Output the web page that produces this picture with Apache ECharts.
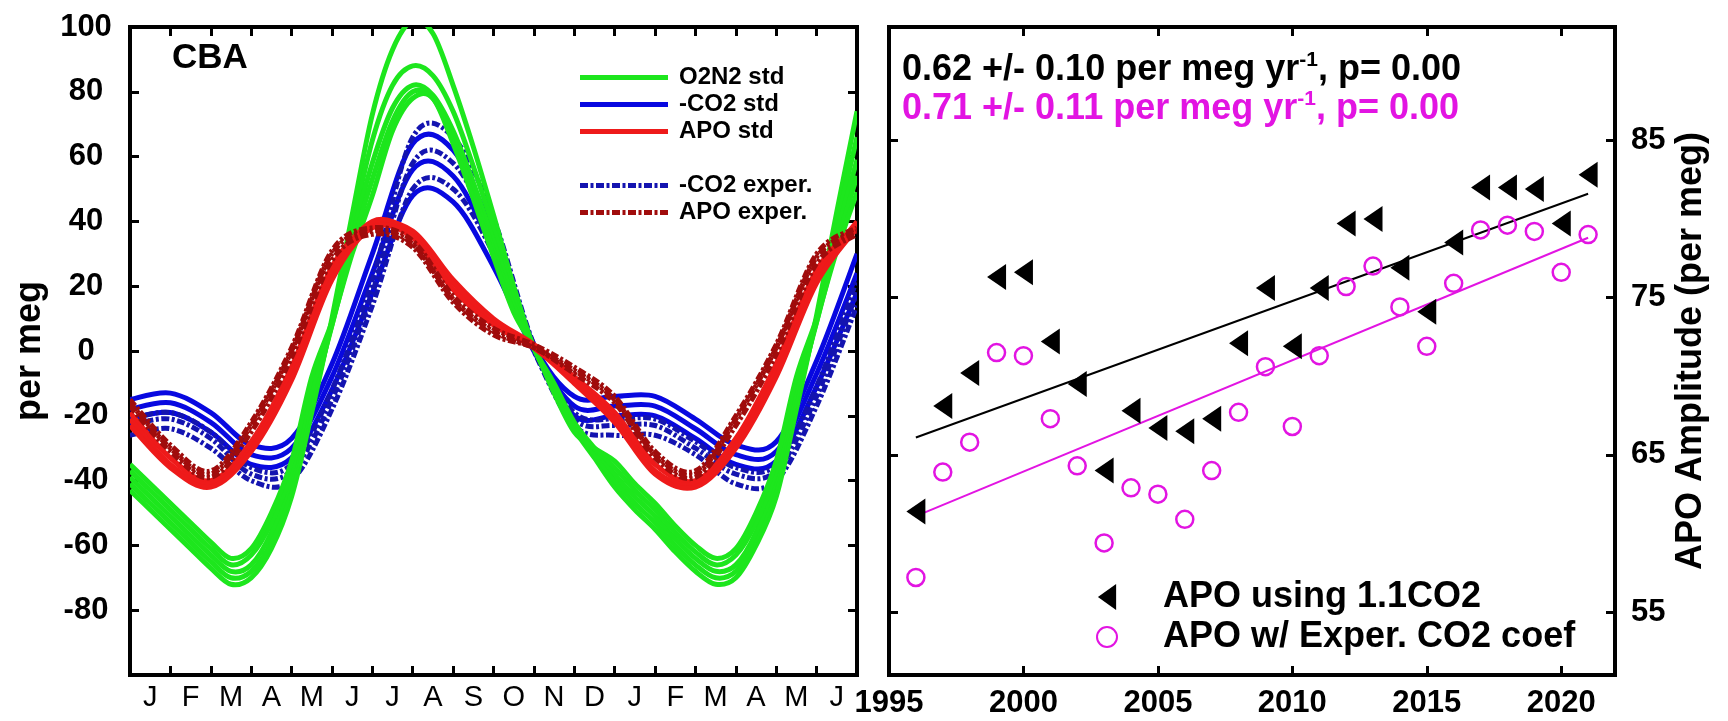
<!DOCTYPE html>
<html>
<head>
<meta charset="utf-8">
<title>CBA seasonal cycles and APO amplitude</title>
<script src="https://cdn.jsdelivr.net/npm/echarts@6/dist/echarts.min.js"></script>
<style>
  html, body { margin: 0; padding: 0; background: #ffffff; }
  #chart { width: 1728px; height: 721px; }
</style>
</head>
<body>
<div id="chart"></div>
<script>
// ---------- Left panel: seasonal cycles over 18 months (Jan .. Jun of next year) ----------
const monthLabels = ['J','F','M','A','M','J','J','A','S','O','N','D','J','F','M','A','M','J'];
const monthTicks = [1,2,3,4,5,6,7,8,9,10,11,12,13,14,15,16,17];
const monthLabelPos = [0.5,1.5,2.5,3.5,4.5,5.5,6.5,7.5,8.5,9.5,10.5,11.5,12.5,13.5,14.5,15.5,16.5,17.5];
const halfMonths = [0,0.5,1,1.5,2,2.5,3,3.5,4,4.5,5,5.5,6,6.5,7,7.5,8,8.5,9,9.5,10,10.5,11,11.5,12,12.5,13,13.5,14,14.5,15,15.5,16,16.5,17,17.5,18];
const months = [0,1,2,3,4,5,6,7,8,9,10,11,12,13,14,15,16,17,18];
const perMegTicks = [-80,-60,-40,-20,0,20,40,60,80];
const perMegLabels = [-80,-60,-40,-20,0,20,40,60,80,100];

// O2N2 std (half-month resolution)
const o2n2Std1 = [-43,-49,-55,-61,-67,-72,-70,-61,-45,-19,10,42,73,93,102,98,82,63,42,20,1,-11,-24,-33,-42,-49,-55,-62,-68,-72,-70,-60,-45,-18,11,43,74];
const o2n2Std2 = [-41,-47,-53,-59,-65,-70,-68,-59,-42,-17,9,38,65,82,88,85,74,57,38,18,1,-11,-23,-32,-40,-47,-53,-60,-66,-70,-68,-58,-42,-16,10,39,66];
const o2n2Std3 = [-39,-45,-51,-57,-63,-68,-66,-56,-39,-15,8,35,58,75,82,79,68,52,34,16,1,-10,-22,-30,-38,-45,-51,-58,-64,-68,-66,-56,-39,-14,9,36,59];
const o2n2Std4 = [-37,-43,-49,-55,-61,-66,-63,-53,-37,-12,8,32,53,71,80,78,66,49,31,14,1,-12,-24,-30,-36,-43,-49,-56,-62,-66,-63,-53,-37,-11,9,33,54];
const o2n2Std5 = [-35,-41,-47,-53,-59,-64,-61,-50,-34,-8,9,30,48,68,78,78,64,47,29,12,1,-13,-25,-30,-34,-41,-47,-54,-60,-64,-61,-50,-34,-8,10,31,49];

// -CO2 std (monthly)
const co2Std1 = [-15,-13,-19,-29,-27,-4,30,64,62,36,2,-14,-14,-14,-21,-29,-28,-3,30];
const co2Std2 = [-18,-16,-22,-32,-30,-8,24,56,54,31,1,-17,-17,-17,-24,-32,-31,-7,24];
const co2Std3 = [-21,-19,-25,-35,-33,-12,18,48,46,26,0,-20,-20,-20,-27,-35,-34,-11,18];
// -CO2 exper. (monthly)
const co2Exp1 = [-21,-19,-25,-36,-35,-12,22,66,66,41,2,-19,-21,-21,-28,-36,-35,-11,22];
const co2Exp2 = [-23,-21,-27,-38,-37,-15,18,58,58,35,1,-21,-23,-23,-30,-38,-37,-14,18];
const co2Exp3 = [-26,-24,-30,-40,-40,-18,14,50,50,30,0,-23,-26,-26,-32,-41,-40,-17,14];

// APO std (monthly)
const apoStd1 = [-19,-33,-40,-28,-5,26,39,37,22,10,2,-8,-19,-35,-40,-27,-4,25,39];
const apoStd2 = [-21,-35,-41,-30,-7,24,40,36,21,9,1,-9,-21,-37,-41,-29,-6,23,40];
const apoStd3 = [-23,-36,-42,-31,-9,22,38,35,19,8,1,-10,-22,-38,-42,-30,-8,21,38];
// APO exper. (monthly)
const apoExp1 = [-15,-29,-37,-22,1,31,38,34,17,7,2,-5,-14,-31,-37,-20,2,30,38];
const apoExp2 = [-16,-30,-38,-23,0,30,37,33,16,6,1,-6,-15,-32,-38,-21,1,29,37];
const apoExp3 = [-17,-31,-39,-25,-2,28,36,32,15,5,1,-7,-16,-33,-39,-23,-1,27,36];

// ---------- Right panel: APO seasonal amplitude by year ----------
const years = [1996,1997,1998,1999,2000,2001,2002,2003,2004,2005,2006,2007,2008,2009,2010,2011,2012,2013,2014,2015,2016,2017,2018,2019,2020,2021];
const apoAmp11 = [61.4,68.1,70.2,76.3,76.6,72.2,69.5,64.0,67.8,66.7,66.5,67.3,72.1,75.6,71.9,75.6,79.7,80.0,76.9,74.1,78.5,82.0,82.0,81.9,79.7,82.8];
const apoAmpExp = [57.2,63.9,65.8,71.5,71.3,67.3,64.3,59.4,62.9,62.5,60.9,64.0,67.7,70.6,66.8,71.3,75.7,77.0,74.4,71.9,75.9,79.3,79.6,79.2,76.6,79.0];
const trendYears = [1996, 2021];
const trend11 = [66.1, 81.6];
const trendExp = [61.1, 78.8];
const yearTicks = [2000,2005,2010,2015,2020];
const yearLabels = [1995,2000,2005,2010,2015,2020];
const ampTicks = [55,65,75,85];

// ---------- styling ----------
const FONT = '"Liberation Sans", Arial, Helvetica, sans-serif';
const GREEN = '#1de61d', BLUE = '#0808e0', BLUE_EXP = '#1414b0', RED = '#ee1a1a', RED_EXP = '#a00c0c', MAGENTA = '#e214e2';
const DASHDOT = [8, 2.5, 3, 2.5];
const SOLID_ICON = 'path://M0,0H88V5H0Z';
const DASHDOT_ICON = 'path://M0,0h8v5h-8zM10.5,0h3v5h-3zM16,0h8v5h-8zM26.5,0h3v5h-3zM32,0h8v5h-8zM42.5,0h3v5h-3zM48,0h8v5h-8zM58.5,0h3v5h-3zM64,0h8v5h-8zM74.5,0h3v5h-3zM80,0h8v5h-8z';
const LEFT_TRIANGLE = 'path://M0,10L14,0L14,20Z';

const pairs = (xs, ys) => xs.map((x, i) => [x, ys[i]]);

// A seasonal cycle drawn as a Catmull-Rom spline through its points (pixel space via the axes).
function cycleSeries(name, xs, ys, color, dashed) {
  return {
    type: 'custom', name: name, xAxisIndex: 0, yAxisIndex: 0, clip: true,
    data: pairs(xs, ys), encode: { x: 0, y: 1 },
    itemStyle: { color: color }, animation: false, silent: true,
    renderItem: function (params, api) {
      if (params.dataIndex !== 0) return null;
      const pts = xs.map((x, i) => api.coord([x, ys[i]]));
      const n = pts.length;
      let d = 'M' + pts[0][0] + ',' + pts[0][1];
      for (let i = 0; i < n - 1; i++) {
        const p0 = pts[Math.max(i - 1, 0)], p1 = pts[i], p2 = pts[i + 1], p3 = pts[Math.min(i + 2, n - 1)];
        const c1x = p1[0] + (p2[0] - p0[0]) / 6, c1y = p1[1] + (p2[1] - p0[1]) / 6;
        const c2x = p2[0] - (p3[0] - p1[0]) / 6, c2y = p2[1] - (p3[1] - p1[1]) / 6;
        d += 'C' + c1x + ',' + c1y + ' ' + c2x + ',' + c2y + ' ' + p2[0] + ',' + p2[1];
      }
      return {
        type: 'path', shape: { pathData: d },
        style: { fill: 'none', stroke: color, lineWidth: 5, lineDash: dashed ? DASHDOT : null, lineCap: 'butt', lineJoin: 'round' }
      };
    }
  };
}

const frameLine = { show: true, onZero: false, lineStyle: { color: '#000', width: 4, cap: 'square' } };
const tickStyle = (vals) => ({ show: true, inside: true, length: 9, customValues: vals, lineStyle: { color: '#000', width: 3 } });
const noSplit = { show: false };

// drawing order: CO2 bands, then O2N2, then APO on top
const series = [];
[co2Std1, co2Std2, co2Std3].forEach(d => series.push(cycleSeries('-CO2 std', months, d, BLUE, false)));
[co2Exp1, co2Exp2, co2Exp3].forEach(d => series.push(cycleSeries('-CO2 exper.', months, d, BLUE_EXP, true)));
[o2n2Std1, o2n2Std2, o2n2Std3, o2n2Std4, o2n2Std5].forEach(d => series.push(cycleSeries('O2N2 std', halfMonths, d, GREEN, false)));
[apoStd1, apoStd2, apoStd3].forEach(d => series.push(cycleSeries('APO std', months, d, RED, false)));
[apoExp1, apoExp2, apoExp3].forEach(d => series.push(cycleSeries('APO exper.', months, d, RED_EXP, true)));

series.push({
  type: 'line', name: 'trend 1.1CO2', xAxisIndex: 2, yAxisIndex: 3,
  data: pairs(trendYears, trend11), symbol: 'none', lineStyle: { color: '#000', width: 2 }, animation: false
});
series.push({
  type: 'line', name: 'trend exper', xAxisIndex: 2, yAxisIndex: 3,
  data: pairs(trendYears, trendExp), symbol: 'none', lineStyle: { color: MAGENTA, width: 2 }, animation: false
});
series.push({
  type: 'scatter', name: 'APO using 1.1CO2', xAxisIndex: 2, yAxisIndex: 3,
  data: pairs(years, apoAmp11), symbol: LEFT_TRIANGLE, symbolSize: [19, 26],
  itemStyle: { color: '#000', opacity: 1 }, animation: false, z: 3
});
series.push({
  type: 'scatter', name: 'APO w/ Exper. CO2 coef', xAxisIndex: 2, yAxisIndex: 3,
  data: pairs(years, apoAmpExp), symbol: 'circle', symbolSize: 17,
  itemStyle: { color: 'rgba(255,255,255,0)', borderColor: MAGENTA, borderWidth: 2.5, opacity: 1 }, animation: false, z: 3
});

const legendText = (size, lh) => ({ fontSize: size, fontWeight: 'bold', fontFamily: FONT, color: '#000', lineHeight: lh });
const boldLabel = { fontSize: 31, fontWeight: 'bold', fontFamily: FONT, color: '#000' };
const axisNameStyle = { fontSize: 36, fontWeight: 'bold', fontFamily: FONT, color: '#000' };

const option = {
  backgroundColor: '#ffffff',
  animation: false,
  grid: [
    { left: 130, top: 27, width: 727, height: 648, containLabel: false },
    { left: 889, top: 27, width: 726, height: 648, containLabel: false }
  ],
  xAxis: [
    { gridIndex: 0, type: 'value', min: 0, max: 18, position: 'bottom',
      axisLine: frameLine, axisTick: tickStyle(monthTicks), splitLine: noSplit,
      axisLabel: { customValues: monthLabelPos, formatter: v => monthLabels[Math.floor(v)],
        fontSize: 29, fontFamily: FONT, color: '#000', margin: 8 } },
    { gridIndex: 0, type: 'value', min: 0, max: 18, position: 'top',
      axisLine: frameLine, axisTick: tickStyle(monthTicks), splitLine: noSplit, axisLabel: { show: false } },
    { gridIndex: 1, type: 'value', min: 1995, max: 2022, position: 'bottom',
      axisLine: frameLine, axisTick: tickStyle(yearTicks), splitLine: noSplit,
      axisLabel: Object.assign({ customValues: yearLabels, formatter: v => String(v), margin: 13 }, boldLabel) },
    { gridIndex: 1, type: 'value', min: 1995, max: 2022, position: 'top',
      axisLine: frameLine, axisTick: tickStyle(yearTicks), splitLine: noSplit, axisLabel: { show: false } }
  ],
  yAxis: [
    { gridIndex: 0, type: 'value', min: -100, max: 100, position: 'left',
      name: 'per meg', nameLocation: 'middle', nameRotate: 90, nameGap: 82, nameMoveOverlap: false,
      nameTextStyle: axisNameStyle,
      axisLine: frameLine, axisTick: tickStyle(perMegTicks), splitLine: noSplit,
      axisLabel: Object.assign({
        customValues: perMegLabels, align: 'right', margin: 16,
        formatter: v => '{c|' + v + '}',
        rich: { c: Object.assign({ width: 56, align: 'center' }, boldLabel) }
      }, boldLabel) },
    { gridIndex: 0, type: 'value', min: -100, max: 100, position: 'right',
      axisLine: frameLine, axisTick: tickStyle(perMegTicks), splitLine: noSplit, axisLabel: { show: false } },
    { gridIndex: 1, type: 'value', min: 51, max: 92.2, position: 'left',
      axisLine: frameLine, axisTick: tickStyle(ampTicks), splitLine: noSplit, axisLabel: { show: false } },
    { gridIndex: 1, type: 'value', min: 51, max: 92.2, position: 'right',
      name: 'APO Amplitude (per meg)', nameLocation: 'middle', nameRotate: 90, nameGap: 58, nameMoveOverlap: false,
      nameTextStyle: axisNameStyle,
      axisLine: frameLine, axisTick: tickStyle(ampTicks), splitLine: noSplit,
      axisLabel: Object.assign({ customValues: ampTicks, formatter: v => String(v), margin: 16 }, boldLabel) }
  ],
  legend: [
    { data: [{ name: 'O2N2 std', icon: SOLID_ICON }, { name: '-CO2 std', icon: SOLID_ICON }, { name: 'APO std', icon: SOLID_ICON }],
      orient: 'vertical', left: 580, top: 64,
      itemWidth: 88, itemHeight: 5, itemGap: 0, padding: 0, selectedMode: false,
      textStyle: Object.assign(legendText(24, 27), { padding: [0, 0, 0, 6] }) },
    { data: [{ name: '-CO2 exper.', icon: DASHDOT_ICON }, { name: 'APO exper.', icon: DASHDOT_ICON }],
      orient: 'vertical', left: 580, top: 172,
      itemWidth: 88, itemHeight: 5, itemGap: 0, padding: 0, selectedMode: false,
      textStyle: Object.assign(legendText(24, 27), { padding: [0, 0, 0, 6] }) },
    { data: ['APO using 1.1CO2', 'APO w/ Exper. CO2 coef'], orient: 'vertical', left: 1096, top: 577,
      itemWidth: 20, itemHeight: 26, itemGap: 0, padding: 0, selectedMode: false,
      textStyle: Object.assign(legendText(36, 40), { padding: [0, 0, 0, 41] }) }
  ],
  graphic: [
    { type: 'text', left: 172, top: 41, silent: true,
      style: { text: 'CBA', fontSize: 35, fontWeight: 'bold', fontFamily: FONT, fill: '#000' } },
    { type: 'text', left: 902, top: 50, silent: true,
      style: {
        text: '{a|0.62 +/- 0.10 per meg yr}{s|-1}{a|, p= 0.00}',
        rich: {
          a: { fontSize: 36, fontWeight: 'bold', fontFamily: FONT, fill: '#000', lineHeight: 40 },
          s: { fontSize: 21, fontWeight: 'bold', fontFamily: FONT, fill: '#000', lineHeight: 20, verticalAlign: 'top' }
        }
      } },
    { type: 'text', left: 902, top: 89, silent: true,
      style: {
        text: '{a|0.71 +/- 0.11 per meg yr}{s|-1}{a|, p= 0.00}',
        rich: {
          a: { fontSize: 36, fontWeight: 'bold', fontFamily: FONT, fill: MAGENTA, lineHeight: 40 },
          s: { fontSize: 21, fontWeight: 'bold', fontFamily: FONT, fill: MAGENTA, lineHeight: 20, verticalAlign: 'top' }
        }
      } }
  ],
  series: series
};

const chart = echarts.init(document.getElementById('chart'), null, { renderer: 'canvas', width: 1728, height: 721 });
chart.setOption(option);
</script>
</body>
</html>
